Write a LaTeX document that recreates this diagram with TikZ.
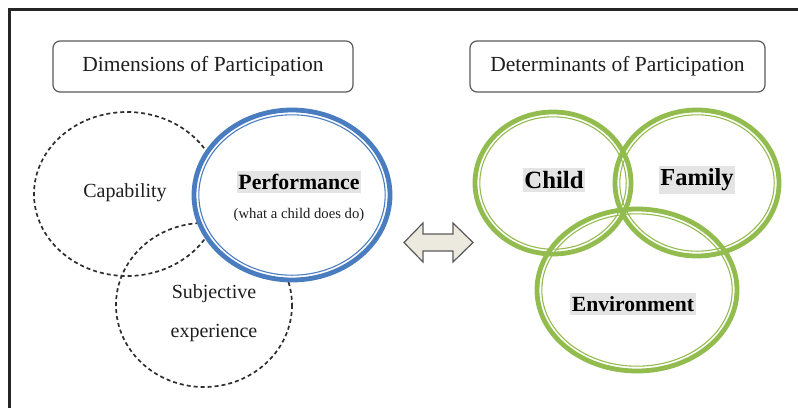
\documentclass[tikz,border=0pt]{standalone}
\usepackage{fontspec}
\setmainfont{Liberation Serif}

\definecolor{txt}{HTML}{1E1E1E}
\definecolor{hl}{HTML}{E4E4E4}
\definecolor{boxgray}{HTML}{5A5A5A}
\definecolor{dashgray}{HTML}{2E2E2E}
\definecolor{perfblue}{HTML}{4A7DC0}
\definecolor{detgreen}{HTML}{93BC4E}
\definecolor{arrowfill}{HTML}{ECEADF}

% thick ring with a thin line just inside it
\newcommand{\ring}[4]{%
  \draw[#4, line width=4.8pt] #1 ellipse ({#2} and {#3});
  \draw[#4, line width=1.1pt] #1 ellipse ({#2-4.8} and {#3-4.8});}

\tikzset{
  titlebox/.style={draw=boxgray, line width=1.2pt, rounded corners=7pt,
    minimum height=51pt, text=txt, font=\fontsize{21.5}{26}\selectfont},
  lbl/.style={text=txt, font=\fontsize{20}{24}\selectfont, align=center},
  keylbl/.style={text=black, fill=hl, inner xsep=1.5pt, inner ysep=3pt},
  dashring/.style={draw=dashgray, line width=1.7pt, dash pattern=on 4pt off 3pt}
}

\begin{document}
\begin{tikzpicture}[x=1pt, y=-1pt]
  \useasboundingbox (0,0) rectangle (798,408);
  % frame (top and left edges)
  \draw[line width=2.5pt, black!85] (798,9.5) -- (9.5,9.5) -- (9.5,408);

  % headings
  \node[titlebox, minimum width=300pt] (dimtitle) at (203,66.5) {Dimensions of Participation};
  \node[titlebox, minimum width=295pt] (dettitle) at (617.5,66.5) {Determinants of Participation};

  % dimensions
  \draw[dashring] (127,194) ellipse (93 and 82);
  \draw[dashring] (204,305) ellipse (88 and 82);
  \fill[white] (292,195) ellipse (98 and 85);
  \ring{(292,195)}{98}{85}{perfblue}

  \node[lbl] (capability) at (125,193) {Capability};
  \node[lbl, font=\fontsize{21.8}{26}\selectfont\bfseries, keylbl] (performance) at (299,182) {Performance};
  \node[lbl, font=\fontsize{14.7}{18}\selectfont] (doesdo) at (299,215) {(what a child does do)};
  \node[lbl, font=\fontsize{20}{39}\selectfont] (subjective) at (214,313) {Subjective\\experience};

  % double arrow between the two halves
  \filldraw[fill=arrowfill, draw=boxgray, line width=1.2pt, line join=miter]
    (404,242.5) -- (423,223) -- (423,234) -- (453,234) -- (453,223) -- (473,242.5)
    -- (453,262) -- (453,251) -- (423,251) -- (423,262) -- cycle;

  % determinants
  \ring{(553,183)}{78}{71}{detgreen}
  \ring{(697,183)}{82}{73}{detgreen}
  \ring{(637,290)}{100}{81}{detgreen}

  \node[lbl, font=\fontsize{24.8}{30}\selectfont\bfseries, keylbl] (child) at (554,180) {Child};
  \node[lbl, font=\fontsize{24.4}{30}\selectfont\bfseries, keylbl] (family) at (697,180) {Family};
  \node[lbl, font=\fontsize{21.6}{26}\selectfont\bfseries, keylbl] (environment) at (633,304) {Environment};
\end{tikzpicture}
\end{document}
